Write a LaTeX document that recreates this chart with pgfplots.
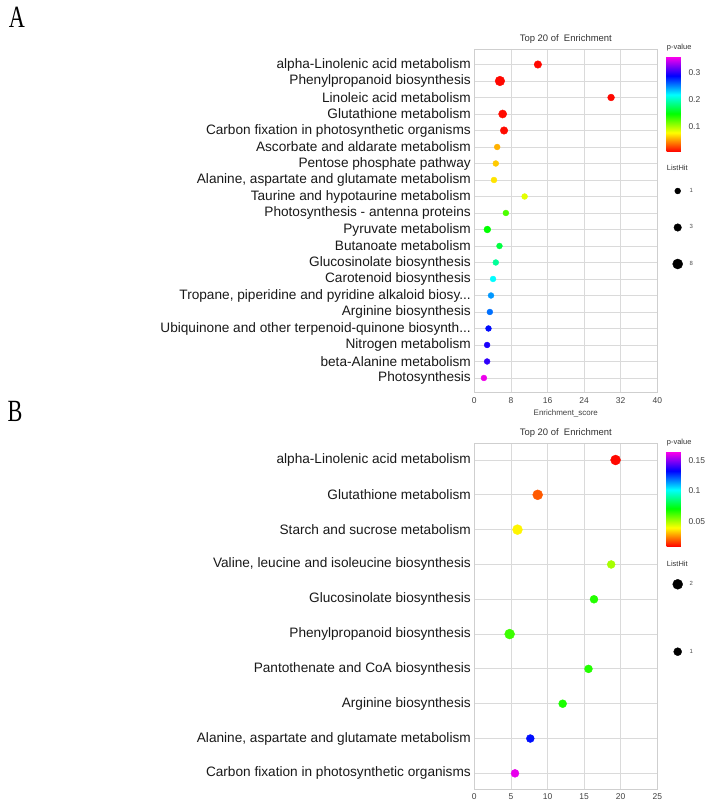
\documentclass[border=0pt]{standalone}
\usepackage{pgfplots}
\pgfplotsset{compat=1.18}
\usepackage{pgfplotstable}
\usepackage{fontspec}
\setmainfont{Liberation Sans}
\newfontfamily\panelfont{Liberation Serif}

\pgfplotstableread{
row x p hit
1 13.9 0.009 3
2 5.6 0.009 7
3 29.9 0.009 2
4 6.2 0.010 4
5 6.5 0.010 3
6 5.0 0.056 1
7 4.7 0.063 1
8 4.3 0.070 1
9 11.0 0.085 1
10 6.9 0.127 1
11 2.85 0.148 2
12 5.5 0.166 1
13 4.7 0.190 1
14 4.1 0.219 1
15 3.65 0.247 1
16 3.4 0.258 1
17 3.1 0.286 1
18 2.8 0.296 1
19 2.8 0.302 1
20 2.1 0.355 1
}\dataA

\pgfplotstableread{
row x p hit
1 19.3 0.009 2
2 8.66 0.019 2
3 5.9 0.038 2
4 18.7 0.050 1
5 16.35 0.066 1
6 4.83 0.063 2
7 15.6 0.066 1
8 12.07 0.067 1
9 7.65 0.131 1
10 5.56 0.161 1
}\dataB

\definecolor{gridc}{HTML}{DADADA}
\definecolor{boxc}{HTML}{CFCFCF}

\pgfplotsset{
  enrich/.style={
    scale only axis,
    width=183bp,
    xmin=0,
    y dir=reverse,
    grid=major,
    major grid style={draw=gridc, line width=0.8bp},
    axis line style={draw=boxc, line width=0.9bp},
    major tick length=0pt,
    /pgf/number format/assume math mode=true,
    xticklabel style={font=\fontsize{8.5}{9}\selectfont, text=black!75},
    yticklabel style={font=\fontsize{13.7}{14}\selectfont, text=black!90},
    title={Top 20 of~ Enrichment},
    title style={font=\fontsize{9.5}{10}\selectfont, text=black!80, at={(axis description cs:0.5,1)}, anchor=center, yshift=4bp, inner sep=0pt},
    colormap={pv}{rgb255=(255,0,0) rgb255=(255,255,0) rgb255=(0,255,0) rgb255=(0,255,255) rgb255=(0,0,255) rgb255=(255,0,235)},
    colorbar right,
    clip mode=individual,
    legend cell align=left,
  },
  cbar/.style={
    colorbar style={
      anchor=north west,
      at={(parent axis.north east)},
      xshift=0.9bp,
      yshift=#1,
      scale only axis,
      width=17.3bp,
      height=95bp,
      axis line style={draw=none},
      major tick length=0pt,
      scaled y ticks=false,
      /pgf/number format/assume math mode=true,
      yticklabel style={font=\fontsize{8.5}{9}\selectfont, text=black!75, xshift=1bp, /pgf/number format/fixed, /pgf/number format/precision=2},
      title={p-value},
      title style={font=\fontsize{7.5}{8}\selectfont, text=black!80, at={(axis description cs:0,1)}, anchor=west, yshift=2.7bp, inner sep=0pt},
    }
  },
  dotlegend/.style={
    legend image code/.code={\pgfpathrectangle{\pgfpoint{0bp}{-6bp}}{\pgfpoint{14bp}{12bp}}\pgfusepath{discard}\draw[##1] plot coordinates {(7bp,0bp)};}
  },
}

\begin{document}
\begin{tikzpicture}
\useasboundingbox (0,0) rectangle (709bp,803bp);

\node[font=\panelfont\fontsize{31}{31}\selectfont, xscale=0.72, inner sep=0pt] at (17bp,785.5bp) {A};
\node[font=\panelfont\fontsize{31}{31}\selectfont, xscale=0.72, inner sep=0pt] at (15bp,391.5bp) {B};

% ---------------- Panel A ----------------
\begin{axis}[enrich,
  at={(474.3bp,411bp)}, anchor=south west,
  height=343bp,
  xmax=40, xtick={0,8,...,40},
  xticklabel style={yshift=-2.5bp},
  ymin=0.06, ymax=20.85,
  ytick={1,...,20},
  yticklabels={alpha-Linolenic acid metabolism,Phenylpropanoid biosynthesis,Linoleic acid metabolism,Glutathione metabolism,Carbon fixation in photosynthetic organisms,Ascorbate and aldarate metabolism,Pentose phosphate pathway,{Alanine, aspartate and glutamate metabolism},Taurine and hypotaurine metabolism,Photosynthesis - antenna proteins,Pyruvate metabolism,Butanoate metabolism,Glucosinolate biosynthesis,Carotenoid biosynthesis,{Tropane, piperidine and pyridine alkaloid biosy.{}.{}.},Arginine biosynthesis,{Ubiquinone and other terpenoid-quinone biosynth.{}.{}.},Nitrogen metabolism,beta-Alanine metabolism,Photosynthesis},
  xlabel={Enrichment\_score},
  xlabel style={font=\fontsize{8}{9}\selectfont, text=black!75, at={(axis description cs:0.5,0)}, anchor=center, yshift=-21bp, inner sep=0pt},
  point meta min=0.007, point meta max=0.36,
  cbar=-7.7bp,
  colorbar style={ytick={0.1,0.2,0.3}},
  legend style={draw=none, fill=none, at={(axis description cs:1.0732,0.6035)}, anchor=north west, inner sep=0pt, outer sep=0pt, nodes={inner sep=0pt, text=black!70, font=\fontsize{6}{6}\selectfont}, column sep=5bp, row sep=24.5bp},
]
\addplot[scatter, only marks, mark=*, point meta=explicit, forget plot,
  scatter/use mapped color={draw=mapped color, fill=mapped color},
  visualization depends on={1.8+1.15*sqrt(\thisrow{hit}) \as \msize},
  scatter/@pre marker code/.append style={/tikz/mark size=\msize}]
  table[x=x, y=row, meta=p] {\dataA};
\addlegendimage{dotlegend, only marks, mark=*, black, mark size=2.95}
\addlegendentry{1}
\addlegendimage{dotlegend, only marks, mark=*, black, mark size=3.79}
\addlegendentry{3}
\addlegendimage{dotlegend, only marks, mark=*, black, mark size=5.05}
\addlegendentry{8}
\node[anchor=west, inner sep=0pt, font=\fontsize{7.5}{8}\selectfont, text=black!80] at (axis description cs:1.0514,0.653) {ListHit};
\end{axis}

% ---------------- Panel B ----------------
\begin{axis}[enrich,
  at={(474.3bp,14bp)}, anchor=south west,
  height=345.7bp,
  xmax=25, xtick={0,5,...,25},
  xticklabel style={yshift=-1.5bp},
  ymin=0.52, ymax=10.45,
  ytick={1,...,10},
  yticklabels={alpha-Linolenic acid metabolism,Glutathione metabolism,Starch and sucrose metabolism,{Valine, leucine and isoleucine biosynthesis},Glucosinolate biosynthesis,Phenylpropanoid biosynthesis,Pantothenate and CoA biosynthesis,Arginine biosynthesis,{Alanine, aspartate and glutamate metabolism},Carbon fixation in photosynthetic organisms},
  point meta min=0.008, point meta max=0.164,
  cbar=-8.4bp,
  colorbar style={ytick={0.05,0.1,0.15}},
  legend style={draw=none, fill=none, at={(axis description cs:1.0732,0.6095)}, anchor=north west, inner sep=0pt, outer sep=0pt, nodes={inner sep=0pt, text=black!70, font=\fontsize{6}{6}\selectfont}, column sep=5bp, row sep=55.4bp},
]
\addplot[scatter, only marks, mark=*, point meta=explicit, forget plot,
  scatter/use mapped color={draw=mapped color, fill=mapped color},
  visualization depends on={3+\thisrow{hit} \as \msize},
  scatter/@pre marker code/.append style={/tikz/mark size=\msize}]
  table[x=x, y=row, meta=p] {\dataB};
\addlegendimage{dotlegend, only marks, mark=*, black, mark size=5}
\addlegendentry{2}
\addlegendimage{dotlegend, only marks, mark=*, black, mark size=4}
\addlegendentry{1}
\node[anchor=west, inner sep=0pt, font=\fontsize{7.5}{8}\selectfont, text=black!80] at (axis description cs:1.0514,0.651) {ListHit};
\end{axis}
\end{tikzpicture}
\end{document}
